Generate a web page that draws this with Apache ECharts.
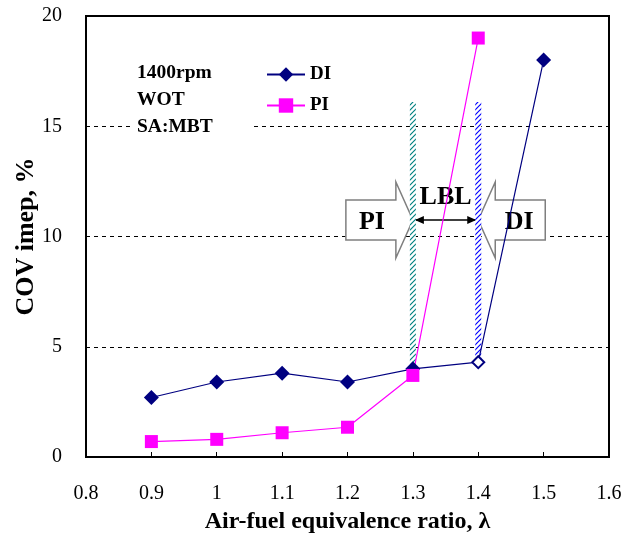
<!DOCTYPE html>
<html>
<head>
<meta charset="utf-8">
<script src="https://cdn.jsdelivr.net/npm/echarts@6/dist/echarts.min.js"></script>
<style>
html, body { margin: 0; padding: 0; background: #fff; }
#main { width: 633px; height: 536px; }
</style>
</head>
<body>
<div id="main"></div>
<script>
// data
var lambdaDi = [0.9, 1.0, 1.1, 1.2, 1.3, 1.4, 1.5];
var covDi = [2.7, 3.4, 3.8, 3.4, 4.0, 4.3, 18.0];
var lambdaPi = [0.9, 1.0, 1.1, 1.2, 1.3, 1.4];
var covPi = [0.7, 0.8, 1.1, 1.35, 3.7, 19.0];
// lean burn limits: lambda, bottom, top
var limitPi = [1.3, 3.7, 16.1];
var limitDi = [1.4, 4.4, 16.1];
var notes = ["1400rpm", "WOT", "SA:MBT"];
var arrowLevel = 10.75;

var serif = "'Liberation Serif', 'DejaVu Serif', serif";

function hatch(color) {
  var c = document.createElement("canvas");
  c.width = 5; c.height = 5;
  var ctx = c.getContext("2d");
  ctx.fillStyle = "#fff";
  ctx.fillRect(0, 0, 5, 5);
  ctx.strokeStyle = color;
  ctx.lineWidth = 1.2;
  ctx.beginPath();
  ctx.moveTo(0, 5); ctx.lineTo(5, 0);
  ctx.moveTo(-1, 1); ctx.lineTo(1, -1);
  ctx.moveTo(4, 6); ctx.lineTo(6, 4);
  ctx.stroke();
  return c;
}

function pairs(xs, ys) {
  return xs.map(function (x, i) { return [x, ys[i]]; });
}

var diData = pairs(lambdaDi, covDi);
diData[5] = { value: diData[5], symbolSize: 12, itemStyle: { color: "#fff", borderColor: "#000080", borderWidth: 2 } };

var myChart = echarts.init(document.getElementById("main"));

function limitSeries(lim, color) {
  return {
    type: "custom",
    silent: true,
    z: 3,
    data: [lim],
    renderItem: function (params, api) {
      var p0 = api.coord([api.value(0), api.value(1)]);
      var p1 = api.coord([api.value(0), api.value(2)]);
      return {
        type: "rect",
        shape: { x: p0[0] - 3, y: p1[1], width: 6, height: p0[1] - p1[1] },
        style: { fill: { image: hatch(color), repeat: "repeat" } }
      };
    }
  };
}

var option = {
  animation: false,
  backgroundColor: "#fff",
  grid: {
    left: 86, top: 16, right: 24, bottom: 79,
    outerBoundsMode: "none",
    show: true, borderColor: "#000", borderWidth: 2
  },
  legend: {
    orient: "vertical",
    left: 261, top: 60,
    itemWidth: 38, itemHeight: 18, itemGap: 12,
    textStyle: { fontFamily: serif, fontWeight: "bold", fontSize: 19, color: "#000" },
    data: ["DI", "PI"]
  },
  xAxis: {
    type: "value",
    min: 0.8, max: 1.6, interval: 0.1,
    name: "Air-fuel equivalence ratio, λ",
    nameLocation: "middle", nameGap: 53,
    nameTextStyle: { fontFamily: serif, fontWeight: "bold", fontSize: 24, color: "#000" },
    axisLine: { lineStyle: { color: "#000", width: 2 } },
    axisTick: { inside: true, length: 5, lineStyle: { color: "#000" } },
    axisLabel: {
      margin: 27, fontFamily: serif, fontSize: 20, color: "#000",
      formatter: function (v) { return String(Math.round(v * 10) / 10); }
    },
    splitLine: { show: false }
  },
  yAxis: {
    type: "value",
    min: 0, max: 20, interval: 5,
    name: "COV imep, %",
    nameLocation: "middle", nameGap: 47, nameMoveOverlap: false,
    nameTextStyle: { fontFamily: serif, fontWeight: "bold", fontSize: 26, color: "#000" },
    axisLine: { lineStyle: { color: "#000", width: 2 } },
    axisTick: { show: false },
    axisLabel: { margin: 24, fontFamily: serif, fontSize: 20, color: "#000" },
    splitLine: { lineStyle: { color: "#000", type: [4, 4], width: 1 } }
  },
  series: [
    {
      name: "DI", type: "line", data: diData,
      symbol: "diamond", symbolSize: 15,
      lineStyle: { color: "#000080", width: 1.2 },
      itemStyle: { color: "#000080" }
    },
    {
      name: "PI", type: "line", data: pairs(lambdaPi, covPi),
      symbol: "rect", symbolSize: 13,
      lineStyle: { color: "#ff00ff", width: 1.2 },
      itemStyle: { color: "#ff00ff" }
    },
    limitSeries(limitPi, "#008080"),
    limitSeries(limitDi, "#0000ff")
  ]
};

myChart.setOption(option);

// annotations anchored to the limit positions
var tPi = myChart.convertToPixel({ gridIndex: 0 }, [limitPi[0], arrowLevel]);
var tDi = myChart.convertToPixel({ gridIndex: 0 }, [limitDi[0], arrowLevel]);

function blockArrow(tip, dir, label) {
  var pts = [[-67, -20], [-17, -20], [-17, -38], [0, 0], [-17, 38], [-17, 20], [-67, 20]];
  return {
    type: "group", x: tip[0], y: tip[1], z: 10,
    children: [
      {
        type: "polygon",
        shape: { points: pts.map(function (p) { return [p[0] * dir, p[1]]; }) },
        style: { fill: "#fff", stroke: "#7f7f7f", lineWidth: 1.5 }
      },
      {
        type: "text", x: -41 * dir, y: 2,
        style: {
          text: label, fontFamily: serif, fontWeight: "bold", fontSize: 26,
          fill: "#000", align: "center", verticalAlign: "middle"
        }
      }
    ]
  };
}

var noteChildren = [{
  type: "rect", shape: { x: 0, y: 0, width: 117, height: 80 },
  style: { fill: "#fff" }
}];
notes.forEach(function (t, i) {
  noteChildren.push({
    type: "text", x: 4, y: 13 + i * 27,
    style: { text: t, fontFamily: serif, fontWeight: "bold", fontSize: 19.5, fill: "#000", verticalAlign: "middle" }
  });
});

myChart.setOption({
  graphic: [
    { type: "group", x: 133, y: 60, z: 1, children: noteChildren },
    blockArrow(tPi, 1, "PI"),
    blockArrow(tDi, -1, "DI"),
    {
      type: "group", z: 11,
      children: [
        {
          type: "line",
          shape: { x1: tPi[0] + 3, y1: tPi[1], x2: tDi[0] - 3, y2: tDi[1] },
          style: { stroke: "#000", lineWidth: 1.5 }
        },
        {
          type: "polygon",
          shape: { points: [[tPi[0] + 2, tPi[1]], [tPi[0] + 11, tPi[1] - 4], [tPi[0] + 11, tPi[1] + 4]] },
          style: { fill: "#000" }
        },
        {
          type: "polygon",
          shape: { points: [[tDi[0] - 2, tDi[1]], [tDi[0] - 11, tDi[1] - 4], [tDi[0] - 11, tDi[1] + 4]] },
          style: { fill: "#000" }
        },
        {
          type: "text", x: (tPi[0] + tDi[0]) / 2, y: tPi[1] - 23,
          style: {
            text: "LBL", fontFamily: serif, fontWeight: "bold", fontSize: 26,
            fill: "#000", align: "center", verticalAlign: "middle"
          }
        }
      ]
    }
  ]
});
</script>
</body>
</html>
